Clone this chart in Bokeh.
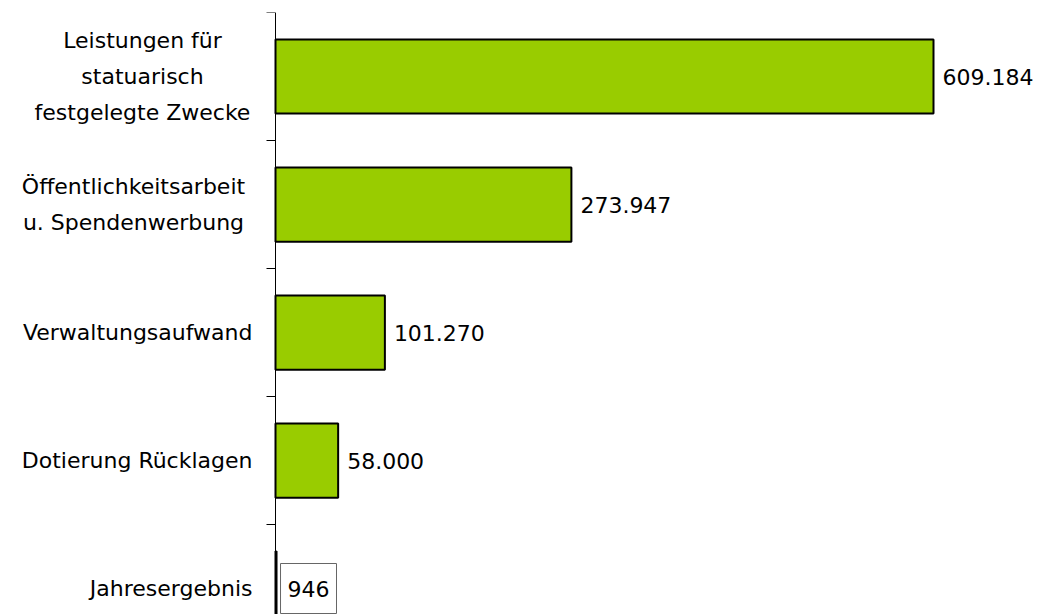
from bokeh.plotting import figure
from bokeh.models import ColumnDataSource, LabelSet, Label, Range1d, FixedTicker
from bokeh.core.properties import value
from bokeh.embed import file_html
from bokeh.resources import INLINE

categories = [
    "Leistungen für\nstatuarisch\nfestgelegte Zwecke",
    "Öffentlichkeitsarbeit\nu. Spendenwerbung",
    "Verwaltungsaufwand",
    "Dotierung Rücklagen",
    "Jahresergebnis",
]
values = [609184, 273947, 101270, 58000, 946]
fills = ["#99CC00", "#99CC00", "#99CC00", "#99CC00", "#FFFFFF"]

FONT_NAME = "DejaVu Sans"
FONT = value(FONT_NAME)
FS = "22px"
FRAME_LEFT = 10     # frame left edge (page px)
AXIS_X = 275        # page x of the value axis
PX_PER_UNIT = 658 / 609184
LABEL_RIGHT = 252 - FRAME_LEFT   # right edge of single-line category labels
LINE_GAP = 36       # pixels between lines of wrapped labels
# horizontal centres (relative to frame) of wrapped labels
wrap_centers = {0: 142 - FRAME_LEFT, 1: 133 - FRAME_LEFT}

def fmt(v):
    return f"{v:,}".replace(",", ".")

pos = [i + 0.5 for i in range(len(categories))]
src = ColumnDataSource(dict(y=pos, v=values, fill=fills))

x0 = -(AXIS_X - FRAME_LEFT) / PX_PER_UNIT
x1 = (1051 - AXIS_X) / PX_PER_UNIT
p = figure(width=1051, height=614, output_backend="svg", toolbar_location=None,
           x_range=Range1d(x0, x1), y_range=Range1d(4.703, 0),
           min_border_left=FRAME_LEFT, min_border_right=0, min_border_top=12,
           min_border_bottom=0)
p.outline_line_color = None
p.grid.visible = False
p.xaxis.visible = False

ticks = list(range(len(categories)))
ax = p.yaxis[0]
ax.fixed_location = 0
ax.ticker = FixedTicker(ticks=ticks)
ax.major_label_overrides = {t: "" for t in ticks}
ax.major_label_standoff = 0
ax.major_tick_out = 9
ax.major_tick_in = 0
ax.minor_tick_line_color = None
ax.axis_line_color = "black"
ax.major_tick_line_color = "black"

p.hbar(y="y", left=0, right="v", height=0.58, source=src,
       fill_color="fill", line_color="black", line_width=2)

main = ColumnDataSource(dict(y=pos[:4], v=values[:4], lbl=[fmt(v) for v in values[:4]]))
p.add_layout(LabelSet(x="v", y="y", text="lbl", source=main, x_offset=9,
                      text_baseline="middle", text_align="left",
                      text_font=FONT, text_font_size=FS, text_color="black"))

p.add_layout(Label(x=values[4], y=pos[4], text=fmt(values[4]), x_offset=4,
                   text_baseline="middle", text_align="left",
                   text_font=FONT_NAME, text_font_size=FS, text_color="black",
                   background_fill_color="white", border_line_color="#666666",
                   border_line_width=1,
                   padding=dict(left=7, right=7, top=17, bottom=17)))

# category labels, one entry per line
rows = {"center": dict(x=[], y=[], off=[], t=[]), "right": dict(x=[], y=[], off=[], t=[])}
for i, cat in enumerate(categories):
    lines = cat.split("\n")
    n = len(lines)
    for k, line in enumerate(lines):
        key = "center" if n > 1 else "right"
        r = rows[key]
        r["x"].append(wrap_centers[i] if n > 1 else LABEL_RIGHT)
        r["y"].append(pos[i])
        r["off"].append(-(k - (n - 1) / 2) * LINE_GAP)
        r["t"].append(line)

for align, r in rows.items():
    p.add_layout(LabelSet(x="x", y="y", x_units="screen", y_offset="off", text="t",
                          source=ColumnDataSource(r), text_baseline="middle",
                          text_align=align, text_font=FONT, text_font_size=FS,
                          text_color="black"))

open("out.html", "w").write(file_html(p, INLINE))
